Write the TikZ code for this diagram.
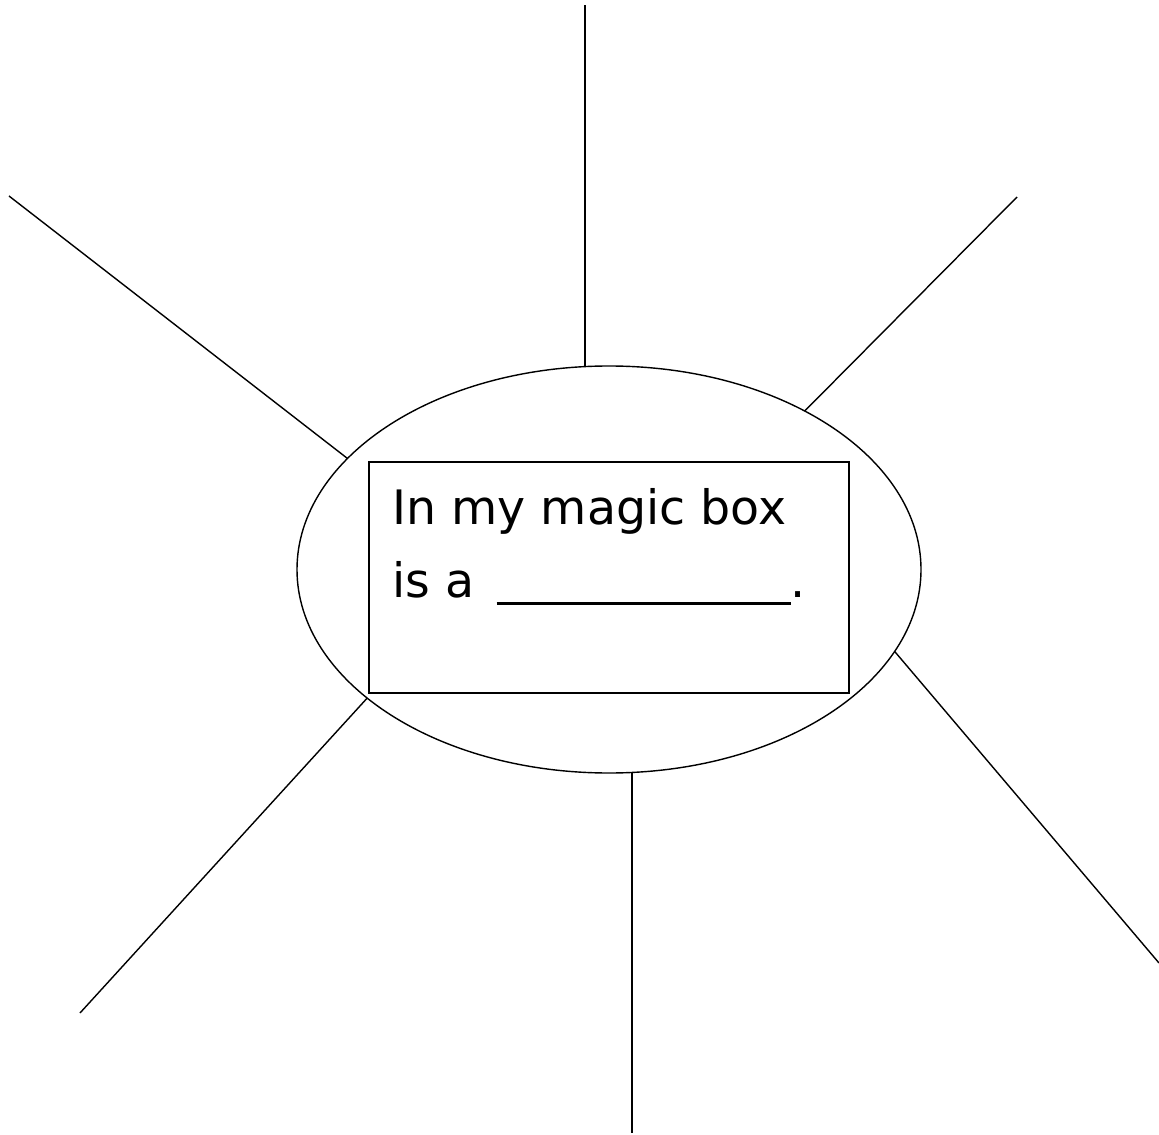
\documentclass[tikz,border=0pt]{standalone}
\usepackage{fontspec}
\setmainfont{DejaVu Sans}
\usepackage{tikz}
\usetikzlibrary{shapes}
\tikzset{
  bubble/.style={
    ellipse, draw, line width=0.8pt,
    minimum width=124.8mm, minimum height=81.4mm,
    inner sep=0pt, outer sep=0pt
  },
  frame/.style={
    rectangle, draw, line width=0.9pt,
    minimum width=96mm, minimum height=46.2mm,
    inner sep=0pt, outer sep=0pt
  },
  line/.style={anchor=base west, inner sep=0pt,
    font=\fontsize{27}{32}\selectfont},
  spoke/.style={line width=0.8pt},
}

\begin{document}
\begin{tikzpicture}[x=0.2mm, y=-0.2mm]
\useasboundingbox (0,0) rectangle (1159,1135);

% Central ellipse and text box
\node[bubble] at (609,569.5) (magic) {};
\node[frame] at (609,577.5) (box) {};

% Sentence
\node[line] at (392,524) (l1) {In my magic box};
\node[line] at (392,597) (l2) {is a \hspace{1.4mm}\rule[-1.5mm]{58.8mm}{0.6mm}.};

% Outer ends of the spokes
\coordinate (top) at (585,5);
\coordinate (ne) at (1017,197);
\coordinate (nw) at (9,196);
\coordinate (sw) at (80,1013);
\coordinate (bot) at (632,1133);
\coordinate (se) at (1159,963);

% Spokes
\draw[spoke] (top |- magic.north) -- (top);
\draw[spoke] (magic.39.2) -- (ne);
\draw[spoke] (magic.157.7) -- (nw);
\draw[spoke] (magic.208.7) -- (sw);
\draw[spoke] (bot |- magic.south) -- (bot);
\draw[spoke] (magic.344.8) -- (se);

\end{tikzpicture}
\end{document}
